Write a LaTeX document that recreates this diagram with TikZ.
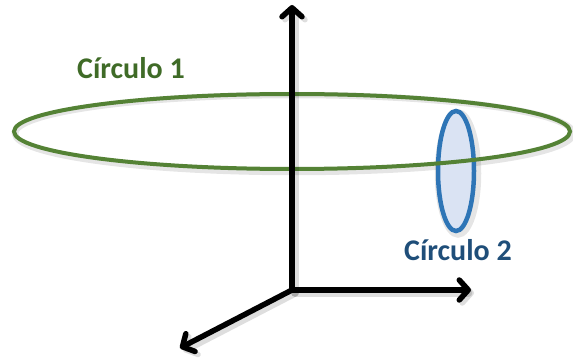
\documentclass[tikz,border=0pt]{standalone}
\usepackage{fontspec}
\setmainfont{Carlito}
\usetikzlibrary{arrows.meta,shapes.geometric}
\definecolor{cgreen}{HTML}{548235}
\definecolor{cgreentext}{HTML}{3F6B27}
\definecolor{cblue}{HTML}{2E75B6}
\definecolor{cbluefill}{HTML}{DAE3F3}
\definecolor{cbluetext}{HTML}{1F4E79}
\tikzset{
  axis/.style={line width=5.5pt, line cap=round, -{Straight Barb[length=9pt,width=20pt,line width=5.5pt,round]}},
  axisshadow/.style={axis, draw=black, opacity=0.13, line width=7.5pt},
  ringone/.style={ellipse, draw=cgreen, line width=4pt, inner sep=0pt},
  ringtwo/.style={ellipse, draw=cblue, fill=cbluefill, line width=4.5pt, inner sep=0pt},
  ringshadow/.style={ellipse, draw=black, opacity=0.10, line width=6.5pt, inner sep=0pt},
  lbl/.style={font=\fontsize{30}{36}\selectfont\bfseries, inner sep=0pt},
}
\begin{document}
\begin{tikzpicture}[x=1pt,y=-1pt]
\useasboundingbox (0,0) rectangle (573,358);
% shadows
\node[ringshadow, minimum width=40pt, minimum height=122pt] at (458,173.5) {};
\node[ringshadow, minimum width=558pt, minimum height=77pt] at (294,133.5) {};
% circle 2
\node[ringtwo, minimum width=36pt, minimum height=120pt] (c2) at (456,171) {};
% circle 1
\node[ringone, minimum width=556pt, minimum height=75pt] (c1) at (292,131.5) {};
% labels
\node[lbl, text=cgreentext] (l1) at (131,68) {Círculo 1};
\node[lbl, text=cbluetext] (l2) at (458,250) {Círculo 2};
% axes
\coordinate (O) at (292,290);
\coordinate (Z) at (292,5);
\coordinate (X) at (471,290);
\coordinate (Y) at (180,348);
\coordinate (Os) at (295,293);
\coordinate (Zs) at (295,8);
\coordinate (Xs) at (474,293);
\coordinate (Ys) at (183,351);
\draw[axisshadow] (Os) -- (Zs);
\draw[axisshadow] (Os) -- (Xs);
\draw[axisshadow] (Os) -- (Ys);
\draw[axis] (O) -- (Z);
\draw[axis] (O) -- (X);
\draw[axis] (O) -- (Y);
\end{tikzpicture}
\end{document}
